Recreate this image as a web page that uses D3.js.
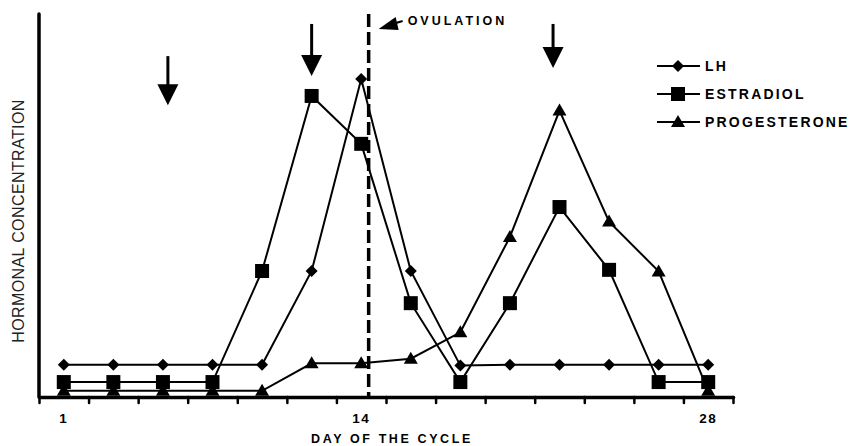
<!DOCTYPE html>
<html>
<head>
<meta charset="utf-8">
<script src="https://cdn.jsdelivr.net/npm/d3@7"></script>
<style>
  body { margin: 0; background: #fff; }
  svg { display: block; font-family: 'Liberation Sans', Arial, sans-serif; }
</style>
</head>
<body>
<div id="chart"></div>
<script>
// samples are taken every other day of the cycle -> 14 points
const samples = d3.range(14);
const tickLabels = ['1', '14', '28'];
const tickLabelIndex = [0, 6, 13];

// relative hormonal concentration (0-100)
const lh = [8.4, 8.4, 8.4, 8.4, 8.4, 32.9, 83.0, 32.9, 8.2, 8.4, 8.4, 8.4, 8.4, 8.4];
const estradiol = [3.9, 3.9, 3.9, 3.9, 32.9, 78.6, 66.1, 24.5, 3.9, 24.5, 49.6, 33.2, 3.9, 3.9];
const progesterone = [1.6, 1.6, 1.6, 1.6, 1.6, 8.8, 8.8, 10.0, 16.9, 41.8, 74.8, 45.8, 32.8, 1.6];
const seriesNames = ['LH', 'ESTRADIOL', 'PROGESTERONE'];

// annotations
const ovulationIndex = 6.15;
const arrowIndex = [2.1, 5.0, 9.87];
const arrowTop = [89.0, 97.4, 97.4];
const arrowTip = [76.2, 83.8, 85.9];

const WIDTH = 860;
const HEIGHT = 446;

const svg = d3
  .select('#chart')
  .append('svg')
  .attr('width', WIDTH)
  .attr('height', HEIGHT);

const x = d3.scaleLinear().domain([-0.5, 13.5]).range([39, 733]);
const y = d3.scaleLinear().domain([0, 100]).range([397, 14]);

// marker shapes
const markers = [
  'M0,-6L6,0L0,6L-6,0Z', // diamond
  'M-7,-7H7V7H-7Z', // square
  'M0,-7L7,5H-7Z' // triangle
];

const series = [lh, estradiol, progesterone].map((values, i) => ({
  name: seriesNames[i],
  marker: markers[i],
  values: values.map((v, j) => ({ i: samples[j], v }))
}));

// X axis: ticks between the sample days
const xAxis = svg
  .append('g')
  .attr('transform', 'translate(0,' + y(0) + ')')
  .call(
    d3
      .axisBottom(x)
      .tickValues(d3.range(-0.5, 14, 1))
      .tickSize(6)
      .tickSizeOuter(0)
      .tickFormat('')
  );

xAxis
  .select('.domain')
  .attr('stroke', '#000')
  .attr('stroke-width', 3.5)
  .attr('stroke-linecap', 'round');
xAxis
  .selectAll('.tick line')
  .attr('stroke', '#000')
  .attr('stroke-width', 2.5)
  .attr('stroke-linecap', 'round');

// Y axis is a bare line
svg
  .append('line')
  .attr('x1', x(-0.5))
  .attr('x2', x(-0.5))
  .attr('y1', y(0))
  .attr('y2', y(100))
  .attr('stroke', '#000')
  .attr('stroke-width', 3.5)
  .attr('stroke-linecap', 'round');

// tick labels
svg
  .append('g')
  .selectAll('text')
  .data(tickLabels)
  .enter()
  .append('text')
  .attr('x', (d, i) => x(tickLabelIndex[i]))
  .attr('y', 423)
  .attr('text-anchor', 'middle')
  .attr('font-size', 13.5)
  .attr('font-weight', 'bold')
  .attr('letter-spacing', 1.5)
  .text(d => d);

// axis titles
svg
  .append('text')
  .attr('x', 392)
  .attr('y', 443)
  .attr('text-anchor', 'middle')
  .attr('font-size', 12.5)
  .attr('font-weight', 'bold')
  .attr('letter-spacing', 2.6)
  .text('DAY OF THE CYCLE');

svg
  .append('text')
  .attr('transform', 'translate(24,221) rotate(-90)')
  .attr('text-anchor', 'middle')
  .attr('font-size', 16)
  .attr('fill', '#222')
  .attr('letter-spacing', 0.4)
  .text('HORMONAL CONCENTRATION');

// ovulation line
svg
  .append('line')
  .attr('x1', x(ovulationIndex))
  .attr('x2', x(ovulationIndex))
  .attr('y1', y(100))
  .attr('y2', y(0))
  .attr('stroke', '#000')
  .attr('stroke-width', 3.5)
  .attr('stroke-dasharray', '13,5');

const ox = x(ovulationIndex);
svg
  .append('line')
  .attr('x1', ox + 34)
  .attr('y1', 21)
  .attr('x2', ox + 24)
  .attr('y2', 24)
  .attr('stroke', '#000')
  .attr('stroke-width', 2);
svg
  .append('path')
  .attr('d', `M${ox + 10},29 L${ox + 27},17 L${ox + 30},30 Z`)
  .attr('fill', '#000');

svg
  .append('text')
  .attr('x', ox + 39)
  .attr('y', 25)
  .attr('font-size', 12.5)
  .attr('font-weight', 'bold')
  .attr('letter-spacing', 3)
  .text('OVULATION');

// down arrows
const arrows = svg
  .append('g')
  .selectAll('g')
  .data(arrowIndex)
  .enter()
  .append('g');

arrows
  .append('line')
  .attr('x1', d => x(d))
  .attr('x2', d => x(d))
  .attr('y1', (d, i) => y(arrowTop[i]))
  .attr('y2', (d, i) => y(arrowTip[i]) - 18)
  .attr('stroke', '#000')
  .attr('stroke-width', 3);

arrows
  .append('path')
  .attr('d', (d, i) => {
    const tx = x(d);
    const ty = y(arrowTip[i]);
    return `M${tx},${ty} L${tx - 10.5},${ty - 21} L${tx + 10.5},${ty - 21} Z`;
  })
  .attr('fill', '#000');

// series lines + markers
const line = d3
  .line()
  .x(d => x(d.i))
  .y(d => y(d.v));

const groups = svg
  .append('g')
  .selectAll('g')
  .data(series)
  .enter()
  .append('g');

groups
  .append('path')
  .attr('d', d => line(d.values))
  .attr('fill', 'none')
  .attr('stroke', '#000')
  .attr('stroke-width', 2);

groups
  .selectAll('.marker')
  .data(d => d.values.map(p => ({ p, marker: d.marker })))
  .enter()
  .append('path')
  .attr('class', 'marker')
  .attr('transform', d => `translate(${x(d.p.i)},${y(d.p.v)})`)
  .attr('d', d => d.marker)
  .attr('fill', '#000');

// legend
const legend = svg
  .append('g')
  .selectAll('g')
  .data(series)
  .enter()
  .append('g')
  .attr('transform', (d, i) => `translate(657,${66 + i * 28})`);

legend
  .append('line')
  .attr('x1', 0)
  .attr('x2', 43)
  .attr('stroke', '#000')
  .attr('stroke-width', 2);

legend
  .append('path')
  .attr('transform', 'translate(21,0)')
  .attr('d', d => d.marker)
  .attr('fill', '#000');

legend
  .append('text')
  .attr('x', 48)
  .attr('y', 5)
  .attr('font-size', 14)
  .attr('font-weight', 'bold')
  .attr('letter-spacing', 2.2)
  .text(d => d.name);
</script>
</body>
</html>
